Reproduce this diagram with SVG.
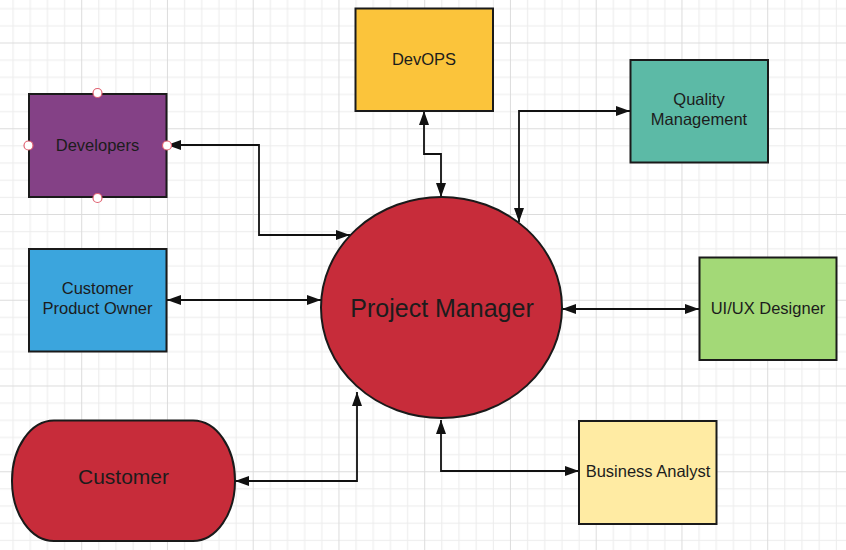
<svg xmlns="http://www.w3.org/2000/svg" width="846" height="550" viewBox="0 0 846 550">
<style>
.node{stroke:#1a1a1a;stroke-width:2}
.lbl{font-family:"Liberation Sans",Arial,sans-serif;font-size:16.5px;fill:#1c1c1c;text-anchor:middle;dominant-baseline:central}
.conn{fill:none;stroke:#111;stroke-width:1.8;marker-start:url(#arr);marker-end:url(#arr)}
.handle{fill:#fff;stroke:#e06070;stroke-width:1.2}
</style>
<defs>
<pattern id="grid" patternUnits="userSpaceOnUse" x="-4.55" y="-43.25" width="85.75" height="85.75">
<g fill="#ececec">
<rect x="17.15" y="0" width="1" height="85.75"/>
<rect x="34.3" y="0" width="1" height="85.75"/>
<rect x="51.45" y="0" width="1" height="85.75"/>
<rect x="68.6" y="0" width="1" height="85.75"/>
<rect x="0" y="17.15" width="85.75" height="1"/>
<rect x="0" y="34.3" width="85.75" height="1"/>
<rect x="0" y="51.45" width="85.75" height="1"/>
<rect x="0" y="68.6" width="85.75" height="1"/>
</g>
<g fill="#dcdcdc">
<rect x="0" y="0" width="1" height="85.75"/>
<rect x="0" y="0" width="85.75" height="1"/>
</g>
</pattern>
<marker id="arr" markerUnits="userSpaceOnUse" viewBox="0 0 14 10" refX="14" refY="5" markerWidth="14" markerHeight="10" orient="auto-start-reverse">
<path d="M0,0 L14,5 L0,10 z" fill="#111"/>
</marker>
</defs>
<rect width="846" height="550" fill="#fff"/>
<rect width="846" height="550" fill="url(#grid)"/>

<g id="connectors">
<path class="conn" d="M167,145 H259 V235 H350"/>
<path class="conn" d="M424,111 V154 H441 V197"/>
<path class="conn" d="M630,111 H519 V222"/>
<path class="conn" d="M167,300 H321"/>
<path class="conn" d="M562,309 H699"/>
<path class="conn" d="M441,420 V471 H579"/>
<path class="conn" d="M235,481 H357 V392"/>
</g>

<g id="project-manager">
<ellipse class="node" cx="441.5" cy="307.5" rx="120.5" ry="110.5" fill="#c72c3a"/>
<text class="lbl" x="442" y="307.5" style="font-size:25px">Project Manager</text>
</g>

<g id="developers">
<rect class="node" x="29" y="94" width="137.5" height="103" fill="#844186"/>
<text class="lbl" x="97.5" y="145">Developers</text>
<circle class="handle" cx="97.5" cy="93" r="4.5"/>
<circle class="handle" cx="28.5" cy="145.5" r="4.5"/>
<circle class="handle" cx="167" cy="145.5" r="4.5"/>
<circle class="handle" cx="97.5" cy="198" r="4.5"/>
</g>

<g id="devops">
<rect class="node" x="355.5" y="8.5" width="137.5" height="102.5" fill="#fbc43b"/>
<text class="lbl" x="424" y="58.5">DevOPS</text>
</g>

<g id="quality-management">
<rect class="node" x="630.5" y="60" width="137.5" height="102.5" fill="#5cbaa6"/>
<text class="lbl" x="699" y="98.5">Quality</text>
<text class="lbl" x="699" y="118.5">Management</text>
</g>

<g id="customer-product-owner">
<rect class="node" x="29" y="249" width="137.5" height="102.5" fill="#3ba5dd"/>
<text class="lbl" x="97.5" y="287.5">Customer</text>
<text class="lbl" x="97.5" y="307.5">Product Owner</text>
</g>

<g id="uiux-designer">
<rect class="node" x="699.5" y="257.5" width="137" height="102.5" fill="#a3d977"/>
<text class="lbl" x="768" y="307.5">UI/UX Designer</text>
</g>

<g id="business-analyst">
<rect class="node" x="579" y="421" width="137.5" height="103" fill="#ffeba3"/>
<text class="lbl" x="648" y="470.5">Business Analyst</text>
</g>

<g id="customer">
<rect class="node" x="12" y="420.5" width="223" height="120.5" rx="42" ry="60" fill="#c72c3a"/>
<text class="lbl" x="123.5" y="476.5" style="font-size:21px">Customer</text>
</g>
</svg>
